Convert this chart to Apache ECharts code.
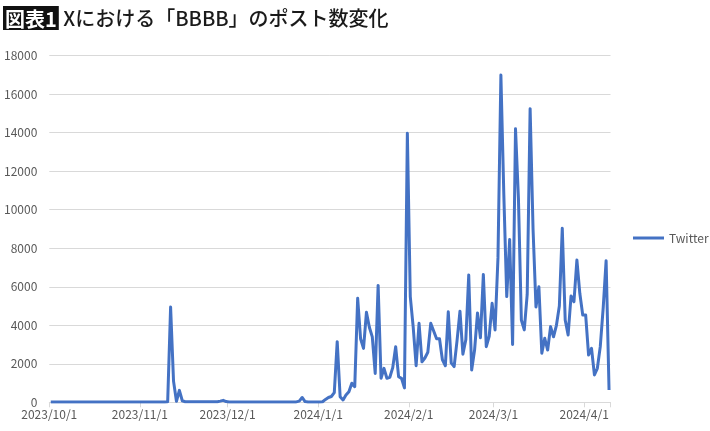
<!DOCTYPE html>
<html>
<head>
<meta charset="utf-8">
<script src="https://cdn.jsdelivr.net/npm/echarts@6/dist/echarts.min.js"></script>
<style>
  html, body { margin: 0; padding: 0; background: #fff; }
  #chart { width: 710px; height: 431px; }
</style>
</head>
<body>
<div id="chart"></div>
<script>
// ---- data (daily post counts) ----
const startDate = '2023/10/1';
const seriesName = 'Twitter';
const yTicks = [0, 2000, 4000, 6000, 8000, 10000, 12000, 14000, 16000, 18000];

const oct2023 = [10,10,10,10,10,10,10,10,10,10,10,10,10,10,10,10,10,10,10,10,10,10,10,10,10,10,10,10,10,10,10];
const nov2023 = [10,10,10,10,10,10,10,10,10, 30,4950,1100,50,620,80, 30,30,30,30,30,30,30,30,30,30,30,30, 60,100,40];
const dec2023 = [20,20,20,20,20,20,20,20,20,20,20,20,20,20,20,20,20,20,20,20,20,20,20,20, 60,250,40, 20,20,20,20];
const jan2024 = [20,30,150,250,300,500,3150,290,120,380,550,990,810,5400,3300,2800,4675,3900,3400,1500,6070,1250,1765,1250,1300,1800,2890,1330,1245,750,13975];
const feb2024 = [5490,3900,1900,4100,2100,2300,2600,4100,3700,3300,3300,2200,1900,4700,2050,1850,3200,4730,2500,3250,6615,1680,2715,4640,3350,6640,2890,3430,5140];
const mar2024 = [3760,7500,17000,10800,5490,8450,3000,14200,10600,4275,3760,5600,15250,9000,4950,6000,2545,3325,2715,3930,3400,4000,5000,9040,4275,3500,5520,5225,7390,5660,4535];
const apr2024 = [4535,2455,2805,1420,1765,2890,4900,7355,640];

const twitter = [].concat(oct2023, nov2023, dec2023, jan2024, feb2024, mar2024, apr2024);

// category labels: one per day starting at startDate
const days = [];
(function () {
  const p = startDate.split('/').map(Number);
  const d = new Date(p[0], p[1] - 1, p[2]);
  for (let i = 0; i < twitter.length; i++) {
    days.push(d.getFullYear() + '/' + (d.getMonth() + 1) + '/' + d.getDate());
    d.setDate(d.getDate() + 1);
  }
})();

const FONT = '"Noto Sans CJK JP", "Noto Sans", sans-serif';
const isMonthStart = (idx, val) => /\/1$/.test(val);

const chart = echarts.init(document.getElementById('chart'), null, { renderer: 'canvas' });
chart.setOption({
  animation: false,
  backgroundColor: '#ffffff',
  textStyle: { fontFamily: FONT },
  title: {
    left: 3,
    top: 6,
    padding: 0,
    text: '{box|図表1} Xにおける「BBBB」のポスト数変化',
    textStyle: {
      fontFamily: FONT,
      fontSize: 20,
      fontWeight: 500,
      color: '#1a1a1a',
      rich: {
        box: {
          fontFamily: FONT,
          fontSize: 20,
          fontWeight: 'bold',
          color: '#ffffff',
          backgroundColor: '#111111',
          padding: [3, 2, 1, 2]
        }
      }
    }
  },
  legend: {
    orient: 'vertical',
    left: 633,
    top: 232,
    padding: 0,
    icon: 'rect',
    itemWidth: 31,
    itemHeight: 3,
    textStyle: { fontFamily: FONT, fontSize: 12, color: '#595959', width: 60, overflow: 'none' },
    data: [seriesName]
  },
  grid: { left: 49.3, right: 99.5, top: 55.7, bottom: 28.7, containLabel: false },
  xAxis: {
    type: 'category',
    data: days,
    boundaryGap: true,
    axisLine: { show: true, lineStyle: { color: '#d9d9d9', width: 1 } },
    axisTick: { show: true, interval: isMonthStart, length: 5, lineStyle: { color: '#d9d9d9' } },
    axisLabel: {
      interval: isMonthStart,
      fontFamily: FONT,
      fontSize: 12,
      color: '#595959',
      margin: 6,
      padding: [0, 3, 0, 0]
    },
    splitLine: { show: false }
  },
  yAxis: {
    type: 'value',
    min: yTicks[0],
    max: yTicks[yTicks.length - 1],
    interval: yTicks[1] - yTicks[0],
    axisLine: { show: false },
    axisTick: { show: false },
    axisLabel: {
      fontFamily: FONT, fontSize: 12, color: '#595959', margin: 12,
      formatter: (v) => String(v)
    },
    splitLine: { show: true, lineStyle: { color: '#d9d9d9', width: 1 } }
  },
  series: [{
    name: seriesName,
    type: 'line',
    data: twitter,
    showSymbol: false,
    symbol: 'none',
    smooth: false,
    lineStyle: { color: '#4472C4', width: 3, join: 'round' },
    itemStyle: { color: '#4472C4' }
  }]
});
</script>
</body>
</html>
